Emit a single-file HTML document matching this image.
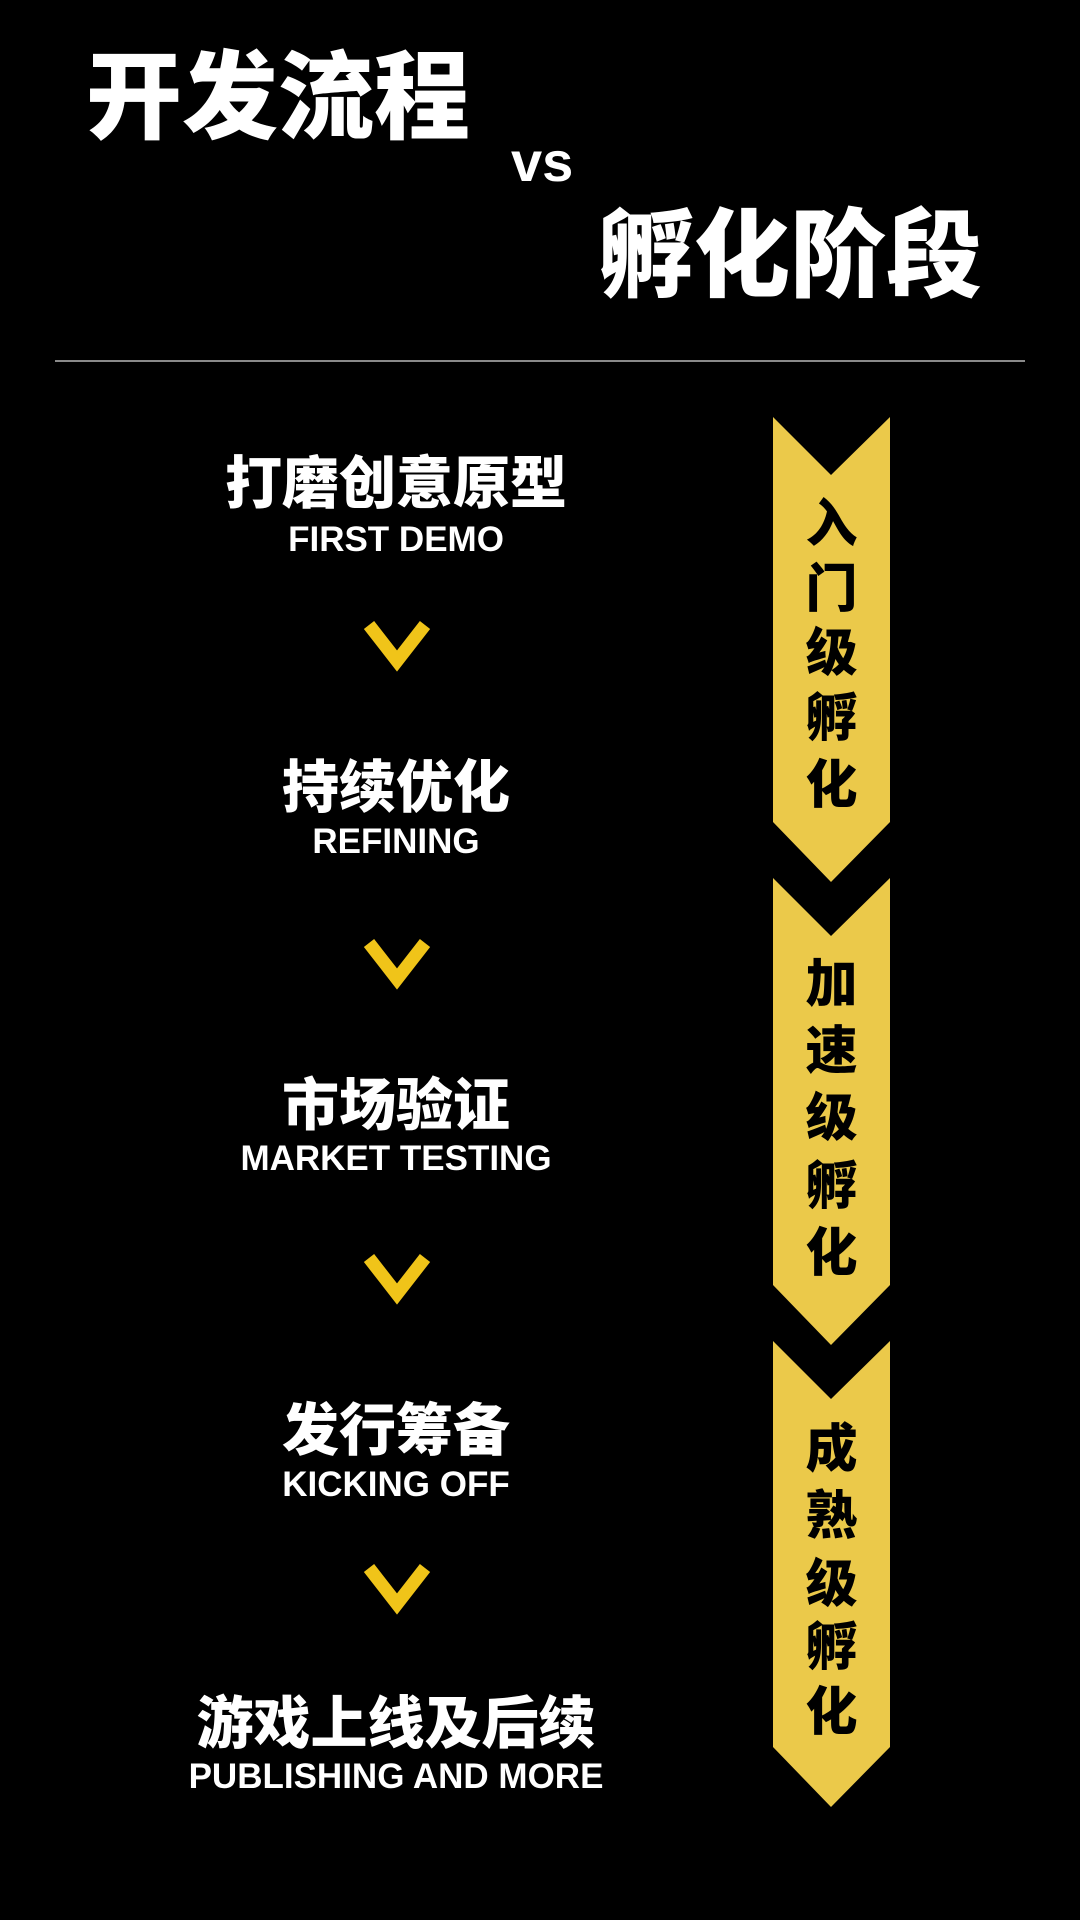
<!DOCTYPE html>
<html><head><meta charset="utf-8"><style>
html,body{margin:0;padding:0;background:#000;}
body{width:1080px;height:1920px;position:relative;overflow:hidden;font-family:"Liberation Sans","Noto Sans CJK SC",sans-serif;color:#fff;}
.t{position:absolute;white-space:nowrap;font-weight:900;}
.cn{font-family:"Noto Sans CJK SC",sans-serif;font-weight:900;}
.c{left:396px;transform:translateX(-50%);}
.h{font-size:57px;line-height:1;}
.e{font-family:"Liberation Sans",sans-serif;font-weight:bold;font-size:35px;line-height:1;}
.b{position:absolute;left:773px;width:117px;text-align:center;}
.b div{position:absolute;left:0;width:117px;font-size:52px;line-height:1;color:#000;font-family:"Noto Sans CJK SC",sans-serif;font-weight:900;}
</style></head><body>
<div class="t cn" style="left:86px;top:42px;font-size:96px;line-height:1;">开发流程</div>
<div class="t" style="left:511px;top:134px;font-size:56px;line-height:1;font-family:'Liberation Sans',sans-serif;font-weight:bold;">vs</div>
<div class="t cn" style="left:598px;top:200px;font-size:96px;line-height:1;">孵化阶段</div>
<div style="position:absolute;left:55px;top:360px;width:970px;height:2px;background:#8a8a8a;"></div>

<div class="t cn c h" style="top:451px;">打磨创意原型</div>
<div class="t e c" style="top:522px;">FIRST DEMO</div>
<div class="t cn c h" style="top:755px;">持续优化</div>
<div class="t e c" style="top:824px;">REFINING</div>
<div class="t cn c h" style="top:1073px;">市场验证</div>
<div class="t e c" style="top:1141px;">MARKET TESTING</div>
<div class="t cn c h" style="top:1398px;">发行筹备</div>
<div class="t e c" style="top:1467px;">KICKING OFF</div>
<div class="t cn c h" style="top:1691px;">游戏上线及后续</div>
<div class="t e c" style="top:1759px;">PUBLISHING AND MORE</div>

<svg width="1080" height="1920" style="position:absolute;left:0;top:0;">
<g fill="none" stroke="#f0c419" stroke-width="13" stroke-linejoin="miter">
<polyline points="369,625 397,661 425,625"/>
<polyline points="369,943 397,979 425,943"/>
<polyline points="369,1258 397,1294 425,1258"/>
<polyline points="369,1568 397,1604 425,1568"/>
</g>
<g fill="#ebc94a">
<polygon points="773,417 831,475 890,417 890,822 831,882 773,822"/>
<polygon points="773,878 831,936 890,878 890,1285 831,1345 773,1285"/>
<polygon points="773,1341 831,1399 890,1341 890,1747 831,1807 773,1747"/>
</g>
</svg>
<div class="b">
<div style="top:494px">入</div><div style="top:559px">门</div><div style="top:623px">级</div><div style="top:688px">孵</div><div style="top:755px">化</div>
<div style="top:954px">加</div><div style="top:1021px">速</div><div style="top:1088px">级</div><div style="top:1156px">孵</div><div style="top:1223px">化</div>
<div style="top:1419px">成</div><div style="top:1486px">熟</div><div style="top:1554px">级</div><div style="top:1617px">孵</div><div style="top:1682px">化</div>
</div>
</body></html>
